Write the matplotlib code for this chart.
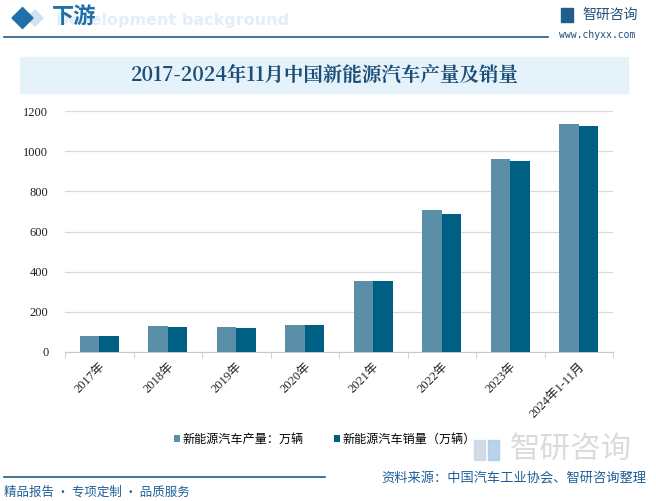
import matplotlib
matplotlib.use("Agg")
import matplotlib.pyplot as plt
from matplotlib.patches import Rectangle, Polygon
import numpy as np

categories = ["2017年", "2018年", "2019年", "2020年", "2021年", "2022年", "2023年", "2024年1-11月"]
production = [79.4, 127.0, 124.2, 136.6, 354.5, 705.8, 958.7, 1134.5]
sales = [77.7, 125.6, 120.6, 136.7, 352.1, 688.7, 949.5, 1126.2]
series_names = ["新能源汽车产量：万辆", "新能源汽车销量（万辆）"]
yticks = [0, 200, 400, 600, 800, 1000, 1200]

CJK = ["Noto Sans CJK SC", "DejaVu Sans"]
SERIF = ["Liberation Serif", "Noto Sans CJK SC"]
plt.rcParams['font.family'] = CJK

W, H = 656, 501
fig = plt.figure(figsize=(W / 100, H / 100), dpi=100)

def fx(x):
    return x / W

def fy(y):
    return 1 - y / H

# ---- header ----
fig.text(fx(56), fy(20), "Development background", fontsize=11.5, fontweight="bold",
         color="#e3eef7", ha="left", va="center", family=["DejaVu Sans"], zorder=1)
fig.add_artist(Polygon([[fx(27), fy(18)], [fx(35), fy(10)], [fx(43), fy(18)], [fx(35), fy(26)]],
                       closed=True, transform=fig.transFigure, color="#c6dcee", alpha=0.8))
fig.add_artist(Polygon([[fx(12), fy(18)], [fx(22.5), fy(7.5)], [fx(33), fy(18)], [fx(22.5), fy(28.5)]],
                       closed=True, transform=fig.transFigure, color="#1f6fa8"))
fig.text(fx(52), fy(17), "下游", fontsize=16, fontweight="bold", color="#1f6fa8",
         ha="left", va="center", zorder=3)
fig.add_artist(plt.Line2D([fx(4), fx(548)], [fy(37), fy(37)], transform=fig.transFigure,
                          color="#1f5f8a", lw=1.2))
# logo top-right
fig.add_artist(Rectangle((fx(561), fy(22)), 12 / W, 14 / H, transform=fig.transFigure,
                         color="#1f5f8a"))
fig.text(fx(582), fy(15), "智研咨询", fontsize=10, color="#1f4f7a", ha="left", va="center")
fig.text(fx(559), fy(35), "www.chyxx.com", fontsize=7, color="#1f4f7a", ha="left",
         va="center", family=["DejaVu Sans Mono"])

# ---- title band ----
fig.add_artist(Rectangle((fx(20), fy(93)), 608 / W, 36 / H, transform=fig.transFigure,
                         color="#e6f2fa", zorder=0))
fig.text(fx(325), fy(75), "2017-2024年11月中国新能源汽车产量及销量", fontsize=14,
         fontweight="bold", color="#1a4f7a", ha="center", va="center",
         family=["Noto Serif CJK SC", "Noto Sans CJK SC", "DejaVu Sans"])

# ---- axes ----
ax = fig.add_axes([fx(65), fy(352), (613 - 65) / W, (352 - 111) / H])
x = np.arange(len(categories))
bw = 0.285
ax.bar(x - bw / 2, production, width=bw, color="#5b8fa8", label=series_names[0], zorder=3)
ax.bar(x + bw / 2, sales, width=bw, color="#006084", label=series_names[1], zorder=3)
ax.set_xlim(-0.5, len(categories) - 0.5)
ax.set_ylim(0, 1200)
ax.set_yticks(yticks)
ax.set_yticklabels([str(v) for v in yticks], fontsize=9, family=SERIF, color="#222222")
ax.grid(axis="y", color="#d9d9d9", lw=0.9, zorder=0)
for s in ["left", "right", "top"]:
    ax.spines[s].set_visible(False)
ax.spines["bottom"].set_color("#c8c8c8")
ax.tick_params(axis="y", length=0, pad=12)
ax.set_xticks(np.arange(len(categories) + 1) - 0.5, minor=True)
ax.set_xticks(x)
ax.set_xticklabels(categories, rotation=45, ha="right", rotation_mode="anchor",
                   fontsize=9, family=SERIF, color="#222222")
ax.tick_params(axis="x", which="major", length=0, pad=6)
ax.tick_params(axis="x", which="minor", length=4, color="#c8c8c8")

# legend
leg = fig.legend(loc="center", bbox_to_anchor=(fx(325), fy(439)), ncol=2, frameon=False,
                 fontsize=8.7, handlelength=0.5, handleheight=0.5, handletextpad=0.2,
                 columnspacing=2.5)

# faint logo near legend
fig.add_artist(Rectangle((fx(474), fy(460)), 11 / W, 20 / H, transform=fig.transFigure,
                         color="#c9d3e0", alpha=0.8))
fig.add_artist(Rectangle((fx(488), fy(460)), 11 / W, 20 / H, transform=fig.transFigure,
                         color="#a9c8e8", alpha=0.8))
fig.text(fx(571), fy(449), "智研咨询", fontsize=22, color="#c4c4c4", alpha=0.6,
         ha="center", va="center")

# ---- footer ----
fig.add_artist(plt.Line2D([fx(4), fx(325)], [fy(477), fy(477)], transform=fig.transFigure,
                          color="#1f5f8a", lw=1.2))
fig.text(fx(514), fy(478), "资料来源：中国汽车工业协会、智研咨询整理", fontsize=9.5,
         color="#1f5f9a", ha="center", va="center")
fig.text(fx(4), fy(492), "精品报告 · 专项定制 · 品质服务", fontsize=9, color="#1f5f9a",
         ha="left", va="center")

fig.savefig("out.png", dpi=100, facecolor="white")
